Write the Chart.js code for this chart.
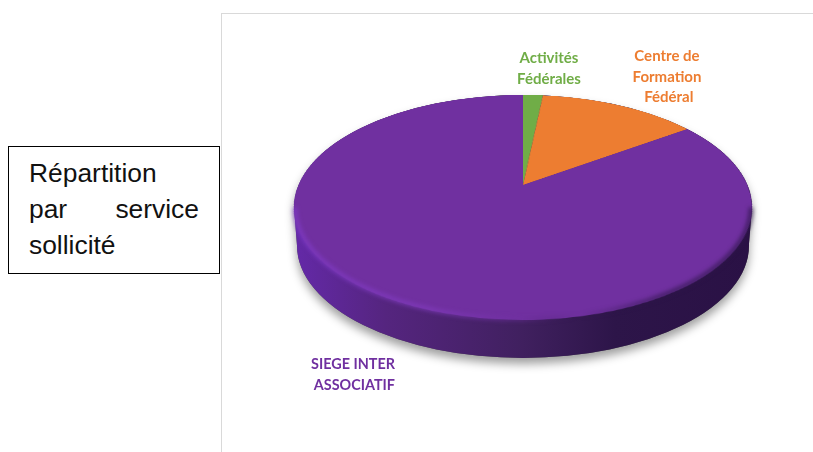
<!DOCTYPE html>
<html lang="fr"><head><meta charset="utf-8">
<script src="https://cdn.jsdelivr.net/npm/chart.js@4"></script>
<style>
html,body{margin:0;padding:0;background:#fff;width:813px;height:452px;overflow:hidden}
.abs{position:absolute}
#vline{left:221px;top:13px;width:1px;height:439px;background:#d9d9d9}
#hline{left:221px;top:13px;width:592px;height:1px;background:#d9d9d9}
#box{left:8px;top:146px;width:210px;height:126px;border:1px solid #000;background:#fff;
 font:26.4px/36px "Liberation Sans",Arial,sans-serif;color:#111}
#box div{position:absolute;left:20px;width:170px}
.lab{font-family:Lato,sans-serif;font-weight:700;font-size:15px;line-height:20.5px;text-align:center;white-space:nowrap}
#wall{left:0;top:0}
#holder{left:283px;top:-55px;width:480px;height:480px;transform-origin:240px 240px;
 transform:matrix3d(0.955,0,0,0, 0,0.4596,0,-0.000851, 0,0,1,0, 0,0,0,1)}
</style></head><body>
<div class="abs" id="vline"></div><div class="abs" id="hline"></div>
<canvas class="abs" id="wall" width="813" height="452"></canvas>
<div class="abs" id="holder"><canvas id="pie" width="480" height="480"></canvas></div>
<canvas class="abs" id="rim" width="813" height="452" style="left:0;top:0"></canvas>
<div class="abs" id="box">
 <div style="top:8px">Répartition</div>
 <div style="top:44px;text-align:justify;text-align-last:justify">par service</div>
 <div style="top:80px">sollicité</div>
</div>
<div class="abs lab" style="left:499px;top:47px;width:100px;color:#70ad47">Activités<br>Fédérales</div>
<div class="abs lab" style="left:617px;top:45px;width:100px;color:#ed7d31">Centre de<br>Formation<br>&nbsp;Fédéral</div>
<div class="abs lab" style="left:303px;top:354px;color:#7030a0;font-size:14.4px;text-align:right;width:92px">SIEGE INTER<br>ASSOCIATIF</div>
<script>
const categories = ["Activités Fédérales", "Centre de Formation Fédéral", "SIEGE INTER ASSOCIATIF"];
const shares = [1.7, 13.5, 84.8];
const sliceColors = ["#70ad47", "#ed7d31", "#7030a0"];

new Chart(document.getElementById("pie"), {
  type: "pie",
  data: { labels: categories, datasets: [{ data: shares, backgroundColor: sliceColors, borderWidth: 0 }] },
  options: {
    responsive: false, animation: false,
    layout: { padding: 5 },
    plugins: { legend: { display: false }, tooltip: { enabled: false } }
  }
});

// Decorative side wall, ground shadow and bevel of the 3D disc
const cx = 523, cy = 207.5, rx = 229, ry = 112.5, depth = 38;
function wallPath(c) {
  c.beginPath();
  c.ellipse(cx, cy, rx, ry, 0, Math.PI, 0, false);
  c.lineTo(cx + rx - 3, cy + depth - 2);
  c.ellipse(cx, cy + depth, rx - 3, ry, 0, 0, Math.PI, false);
  c.closePath();
}
const w = document.getElementById("wall").getContext("2d");
w.save();
w.shadowColor = "rgba(0,0,0,0.38)"; w.shadowBlur = 10; w.shadowOffsetY = 6;
w.fillStyle = "#555"; wallPath(w); w.fill();
w.restore();
const g = w.createLinearGradient(cx - rx, 0, cx + rx, 0);
g.addColorStop(0, "#6429a8"); g.addColorStop(0.2, "#55257f"); g.addColorStop(0.5, "#40205f");
g.addColorStop(0.7, "#2d1549"); g.addColorStop(1, "#2a1145");
w.fillStyle = g; wallPath(w); w.fill();

// bevel drawn over the top-face rim
const r = document.getElementById("rim").getContext("2d");
const bev = r.createLinearGradient(cx - rx, 0, cx + rx, 0);
bev.addColorStop(0, "rgba(130,60,205,0.75)"); bev.addColorStop(0.3, "rgba(130,60,190,0.75)");
bev.addColorStop(0.5, "rgba(112,48,160,0.5)"); bev.addColorStop(0.62, "rgba(45,21,73,0)");
bev.addColorStop(0.8, "rgba(45,21,73,0.7)"); bev.addColorStop(1, "rgba(45,21,73,0.8)");
r.filter = "blur(2px)";
r.strokeStyle = bev; r.lineWidth = 4;
r.beginPath(); r.ellipse(cx, cy, rx - 1, ry - 1, 0, 0, Math.PI); r.stroke();
</script>
</body></html>
